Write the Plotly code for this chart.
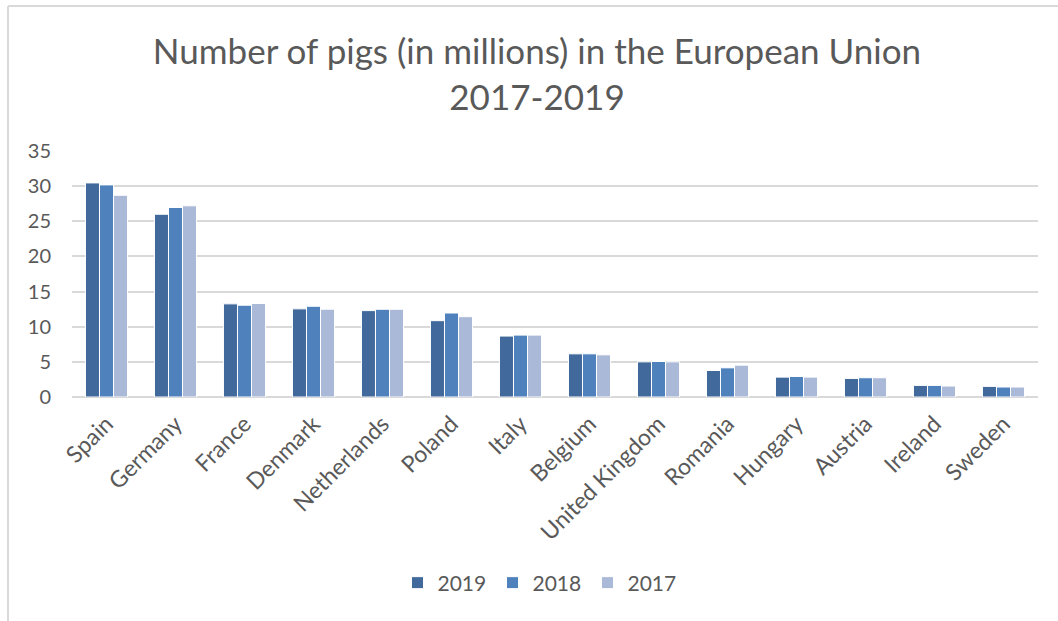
import plotly.graph_objects as go

# Pig population by member state, millions of head
countries = ["Spain", "Germany", "France", "Denmark", "Netherlands", "Poland", "Italy",
             "Belgium", "United Kingdom", "Romania", "Hungary", "Austria", "Ireland", "Sweden"]
pigs_2019 = [30.46, 26.0, 13.25, 12.54, 12.29, 10.86, 8.67, 6.14, 5.0, 3.77, 2.83, 2.64, 1.65, 1.51]
pigs_2018 = [30.18, 26.96, 13.06, 12.91, 12.48, 11.95, 8.81, 6.14, 5.05, 4.15, 2.92, 2.74, 1.65, 1.42]
pigs_2017 = [28.7, 27.2, 13.3, 12.49, 12.48, 11.43, 8.81, 6.0, 5.0, 4.53, 2.83, 2.74, 1.56, 1.42]
y_ticks = [0, 5, 10, 15, 20, 25, 30, 35]

series = [("2019", pigs_2019, "#41699B"),
          ("2018", pigs_2018, "#4F81BD"),
          ("2017", pigs_2017, "#AAB9D8")]

TEXT = "#595959"
GRID = "#D9D9D9"
FONT = "Lato"

fig = go.Figure()
for name, vals, color in series:
    fig.add_trace(go.Bar(
        x=countries, y=vals, name=name,
        marker=dict(color=color, line=dict(color="white", width=1)),
    ))

W, H = 1058, 621
L, R, T, B = 72, 20, 151, 224
pw, ph = W - L - R, H - T - B

def px_x(p):
    return (p - L) / pw

def px_y(p):
    return (H - B - p) / ph

fig.update_layout(
    width=W, height=H,
    margin=dict(l=L, r=R, t=T, b=B, autoexpand=False),
    paper_bgcolor="white", plot_bgcolor="white",
    barmode="group", bargap=0.39, bargroupgap=0.0,
    font=dict(family=FONT, color=TEXT),
    title=dict(
        text="Number of pigs (in millions) in the European Union<br>2017-2019",
        x=537 / W, xanchor="center", xref="container",
        y=1 - 64 / H, yanchor="middle", yref="container",
        font=dict(family=FONT, size=35, color=TEXT, weight=400),
    ),
    xaxis=dict(
        tickangle=-45, tickfont=dict(size=23, color=TEXT),
        showgrid=False, showline=False, ticks="", automargin=False,
        ticklabelstandoff=8,
    ),
    yaxis=dict(
        range=[0, 35], tickvals=y_ticks,
        tickfont=dict(size=20, color=TEXT),
        showgrid=True, gridcolor=GRID, gridwidth=1.5,
        zeroline=True, zerolinecolor=GRID, zerolinewidth=2,
        showline=False, ticks="", ticklabelstandoff=20, automargin=False,
    ),
    legend=dict(
        orientation="h", x=px_x(540), xanchor="center",
        y=px_y(583), yanchor="middle",
        font=dict(size=21, color=TEXT),
        traceorder="normal", itemwidth=30,
        entrywidth=50,
    ),
    showlegend=True,
)

# Chart-area frame (left and top edges)
fig.add_shape(type="line", xref="paper", yref="paper",
              x0=px_x(8), x1=px_x(8), y0=px_y(621), y1=px_y(6),
              line=dict(color=GRID, width=2))
fig.add_shape(type="line", xref="paper", yref="paper",
              x0=px_x(8), x1=px_x(1058), y0=px_y(6), y1=px_y(6),
              line=dict(color=GRID, width=2))

fig.write_html("out.html")
